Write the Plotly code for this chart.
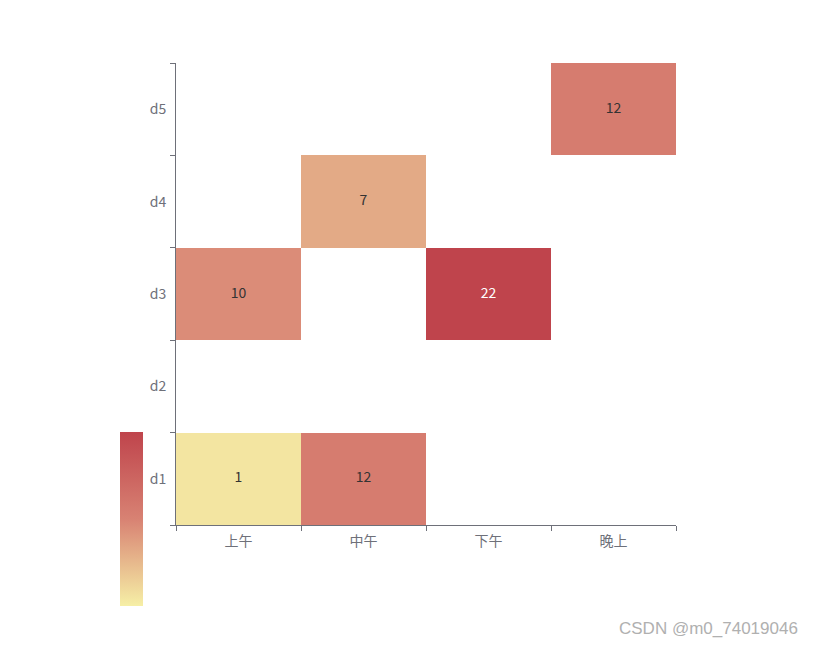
import plotly.graph_objects as go

periods = ["上午", "中午", "下午", "晚上"]
days = ["d1", "d2", "d3", "d4", "d5"]

# z[row=day][col=period], None = empty cell
values = [
    [1, 12, None, None],
    [None, None, None, None],
    [10, None, 22, None],
    [None, 7, None, None],
    [None, None, None, 12],
]

# points for the labels
pt_x = ["上午", "中午", "上午", "下午", "中午", "晚上"]
pt_y = ["d1", "d1", "d3", "d3", "d4", "d5"]
pt_v = [1, 12, 10, 22, 7, 12]

scale = [[0, "#f6efa6"], [0.5, "#d88273"], [1, "#bf444c"]]
axis_col = "#6e7079"

fig = go.Figure()
fig.add_trace(go.Heatmap(
    x=periods, y=days, z=values,
    colorscale=scale, zmin=0, zmax=22,
    hoverongaps=False,
    colorbar=dict(
        x=-0.112, xanchor="left", y=-0.175, yanchor="bottom",
        xpad=0, ypad=0,
        thickness=23, thicknessmode="pixels",
        len=174, lenmode="pixels",
        outlinewidth=0, showticklabels=False, ticks="",
    ),
))
fig.add_trace(go.Scatter(
    x=pt_x, y=pt_y, mode="text",
    text=[str(v) for v in pt_v],
    textfont=dict(size=14, color=["#fff" if v > 15 else "#333" for v in pt_v],
                  family="Noto Sans CJK SC"),
    hoverinfo="skip", showlegend=False,
))

# page body has an 8px margin, so shift the plot area by 8px up/left
fig.update_layout(
    width=815, height=646,
    margin=dict(l=168, r=147, t=55, b=129),
    plot_bgcolor="white", paper_bgcolor="white",
    font=dict(family="Noto Sans CJK SC", size=14, color=axis_col),
    showlegend=False,
)
fig.update_xaxes(
    type="category", categoryorder="array", categoryarray=periods,
    showgrid=False, zeroline=False,
    showline=True, linecolor=axis_col, linewidth=1,
    ticks="outside", tickson="boundaries", ticklen=5, tickcolor=axis_col,
    range=[-0.5, 3.5], ticklabelstandoff=3,
)
fig.update_yaxes(
    type="category", categoryorder="array", categoryarray=days,
    showgrid=False, zeroline=False,
    showline=True, linecolor=axis_col, linewidth=1,
    ticks="outside", tickson="boundaries", ticklen=5, tickcolor=axis_col,
    range=[-0.5, 4.5], ticklabelstandoff=6,
)
fig.add_annotation(
    text="CSDN @m0_74019046", xref="paper", yref="paper",
    x=(800 - 176) / 500, y=(525 - 628) / 462, xanchor="right", yanchor="middle",
    showarrow=False, font=dict(family="Liberation Sans", size=17, color="#b0b0b0"),
)

fig.write_html("out.html")
